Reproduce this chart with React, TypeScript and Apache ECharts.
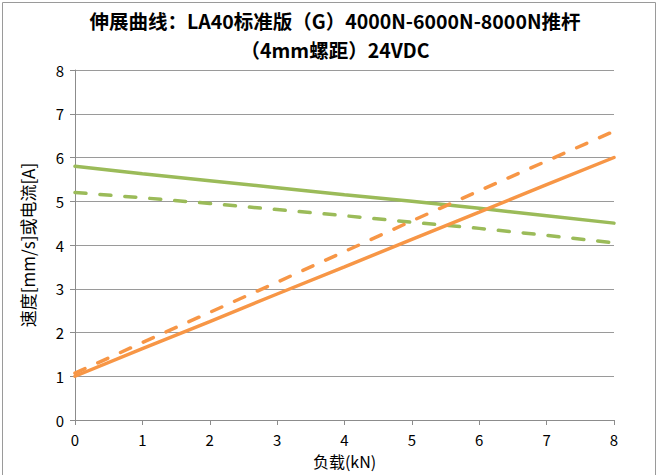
import React, { useEffect, useRef } from "react";
import * as echarts from "echarts";

const xLoads = [0, 1, 2, 3, 4, 5, 6, 7, 8];
const greenSolid = [5.8, 5.63, 5.47, 5.31, 5.15, 5.0, 4.84, 4.67, 4.5];
const greenDashed = [5.2, 5.08, 4.95, 4.81, 4.67, 4.52, 4.38, 4.22, 4.05];
const orangeSolid = [1.0, 1.63, 2.25, 2.88, 3.5, 4.13, 4.75, 5.38, 6.0];
const orangeDashed = [1.07, 1.77, 2.46, 3.15, 3.85, 4.55, 5.24, 5.92, 6.6];

const titleLines = ["伸展曲线：LA40标准版（G）4000N-6000N-8000N推杆", "（4mm螺距）24VDC"];
const xName = "负载(kN)";
const yName = "速度[mm/s]或电流[A]";

const GREEN = "#9BBB59";
const ORANGE = "#F79646";
const FONT = "'Noto Sans CJK SC', 'Noto Sans', sans-serif";

export default function App() {
  const ref = useRef<HTMLDivElement>(null);
  useEffect(() => {
    if (!ref.current) return;
    const chart = echarts.init(ref.current, null, { renderer: "svg" });
    const mk = (vals: number[], color: string, dashed: boolean) => ({
      type: "line",
      data: xLoads.map((x, i) => [x, vals[i]]),
      showSymbol: false,
      symbol: "none",
      lineStyle: {
        color,
        width: 3.5,
        type: dashed ? [11, 14] : "solid",
        cap: "round",
      },
      smooth: false,
    });
    chart.setOption({
      animation: false,
      backgroundColor: "#ffffff",
      textStyle: { fontFamily: FONT },
      title: titleLines.map((t, i) => ({
        text: t,
        left: 335,
        textAlign: "center",
        top: 10 + i * 28.5,
        padding: 0,
        textStyle: {
          fontFamily: FONT,
          fontSize: 19.5,
          fontWeight: "bold",
          color: "#000",
          lineHeight: 21,
        },
      })),
      graphic: [
        {
          type: "rect",
          shape: { x: 2.5, y: 2.5, width: 653, height: 480 },
          style: { fill: "none", stroke: "#9a9a9a", lineWidth: 1 },
          silent: true,
        },
      ],
      grid: { left: 75, right: 46, top: 70, bottom: 55 },
      xAxis: {
        type: "value",
        min: 0,
        max: 8,
        interval: 1,
        name: xName,
        nameLocation: "middle",
        nameGap: 33,
        nameTextStyle: { fontFamily: FONT, fontSize: 16, color: "#000" },
        axisLine: { show: true, lineStyle: { color: "#8c8c8c", width: 1 } },
        axisTick: { show: true, length: 5, lineStyle: { color: "#8c8c8c" } },
        axisLabel: { fontFamily: FONT, fontSize: 15, color: "#000", margin: 12 },
        splitLine: { show: false },
      },
      yAxis: {
        type: "value",
        min: 0,
        max: 8,
        interval: 1,
        name: yName,
        nameLocation: "middle",
        nameGap: 39,
        nameTextStyle: { fontFamily: FONT, fontSize: 17, color: "#000" },
        axisLine: { show: true, lineStyle: { color: "#8c8c8c", width: 1 } },
        axisTick: { show: true, length: 5, lineStyle: { color: "#8c8c8c" } },
        axisLabel: { fontFamily: FONT, fontSize: 15, color: "#000", margin: 11 },
        splitLine: { show: true, lineStyle: { color: "#9a9a9a", width: 1 } },
      },
      series: [
        mk(greenSolid, GREEN, false),
        mk(greenDashed, GREEN, true),
        mk(orangeSolid, ORANGE, false),
        mk(orangeDashed, ORANGE, true),
      ],
    });
    return () => chart.dispose();
  }, []);
  return (
    <div
      ref={ref}
      style={{ position: "absolute", left: 0, top: 0, width: 660, height: 475 }}
    />
  );
}
